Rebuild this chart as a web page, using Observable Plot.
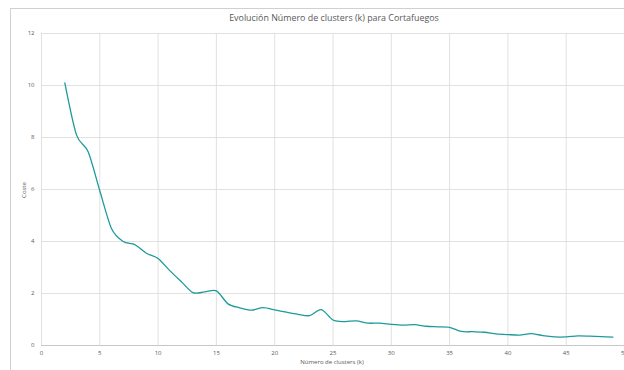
<!DOCTYPE html>
<html>
<head>
<meta charset="utf-8">
<script src="https://cdn.jsdelivr.net/npm/d3@7"></script>
<script src="https://cdn.jsdelivr.net/npm/@observablehq/plot@0.6"></script>
<style>
  html, body { margin: 0; padding: 0; background: #fff; }
  #chart svg { display: block; }
</style>
</head>
<body>
<div id="chart"></div>
<script>
const title = "Evolución Número de clusters (k) para Cortafuegos";
const xLabel = "Número de clusters (k)";
const yLabel = "Coste";
const clusters = [2,3,4,5,6,7,8,9,10,11,12,13,14,15,16,17,18,19,20,21,22,23,24,25,26,27,28,29,30,31,32,33,34,35,36,37,38,39,40,41,42,43,44,45,46,47,48,49];
const coste = [10.1,8.1,7.45,5.95,4.5,4.0,3.88,3.55,3.35,2.88,2.45,2.03,2.06,2.1,1.6,1.45,1.36,1.46,1.37,1.28,1.2,1.15,1.38,0.98,0.92,0.95,0.86,0.86,0.81,0.78,0.8,0.74,0.72,0.7,0.54,0.53,0.51,0.45,0.42,0.4,0.46,0.38,0.33,0.33,0.37,0.36,0.34,0.32];
const xTicks = [0,5,10,15,20,25,30,35,40,45,50];
const yTicks = [0,2,4,6,8,10,12];

const data = clusters.map((k, i) => ({k, c: coste[i]}));
const font = "Open Sans, sans-serif";

const plot = Plot.plot({
  width: 624,
  height: 370,
  marginLeft: 41,
  marginRight: 0,
  marginTop: 33,
  marginBottom: 25,
  style: {fontFamily: font, fontSize: "6px", color: "#595959", background: "#fff"},
  x: {domain: [0, 50], ticks: xTicks, tickSize: 0, tickPadding: 5, label: null},
  y: {domain: [0, 12], ticks: yTicks, tickSize: 0, tickPadding: 7, label: null},
  marks: [
    Plot.gridX(xTicks, {stroke: "#d9d9d9", strokeOpacity: 1, strokeWidth: 0.8}),
    Plot.gridY(yTicks, {stroke: "#d9d9d9", strokeOpacity: 1, strokeWidth: 0.8}),
    Plot.ruleY([0], {stroke: "#c8c8c8", strokeWidth: 1}),
    Plot.line(data, {x: "k", y: "c", stroke: "#1f9a9a", strokeWidth: 1.3, curve: "cardinal", tension: 0.15})
  ]
});

const svg = d3.select(plot);
svg.insert("rect", ":first-child")
  .attr("x", 10.5).attr("y", 8.5).attr("width", 640).attr("height", 400)
  .attr("fill", "none").attr("stroke", "#d0d0d0").attr("stroke-width", 1);
svg.append("text").text(title)
  .attr("x", 334).attr("y", 21).attr("text-anchor", "middle")
  .attr("font-family", font).attr("font-size", "8.9px").attr("fill", "#595959");
svg.append("text").text(xLabel)
  .attr("x", 332).attr("y", 364).attr("text-anchor", "middle")
  .attr("font-family", font).attr("font-size", "6px").attr("fill", "#595959");
svg.append("text").text(yLabel)
  .attr("transform", "translate(26,190) rotate(-90)").attr("text-anchor", "middle")
  .attr("font-family", font).attr("font-size", "6px").attr("fill", "#595959");

document.getElementById("chart").appendChild(plot);
</script>
</body>
</html>
